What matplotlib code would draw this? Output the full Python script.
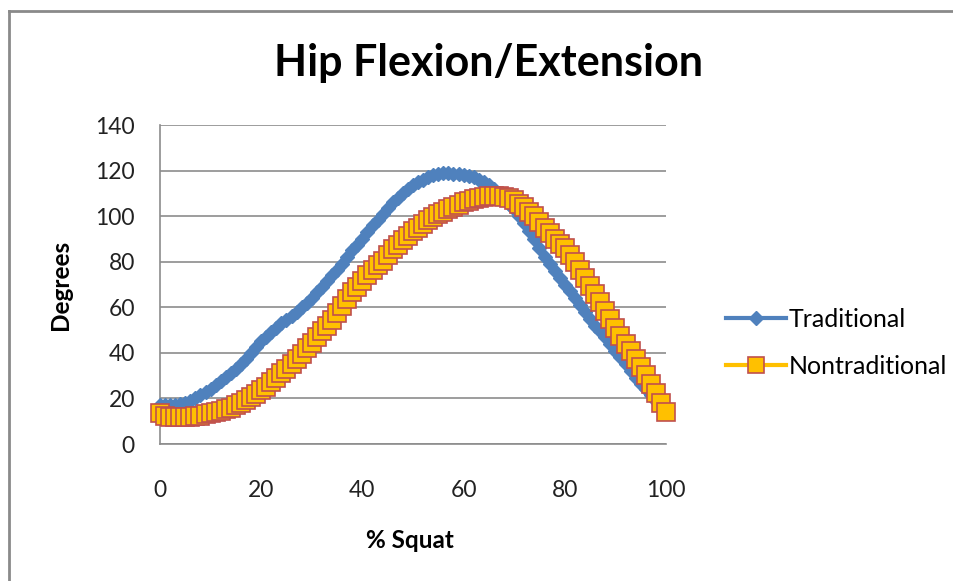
import matplotlib.pyplot as plt
from matplotlib.lines import Line2D

plt.rcParams['font.family'] = ['Lato', 'DejaVu Sans']

# % squat, 0..100
squat = list(range(101))

traditional = [
    17.0, 17.0, 17.0, 17.2, 17.5, 18.2, 19.0, 20.2, 21.5, 22.7,
    24.0, 25.7, 27.5, 29.2, 31.0, 33.0, 35.0, 37.5, 40.0, 42.5,
    45.0, 47.0, 49.0, 51.0, 53.0, 54.5, 56.0, 58.0, 60.0, 62.0,
    64.0, 66.5, 69.0, 71.5, 74.0, 76.5, 79.0, 82.0, 85.0, 87.5,
    90.0, 93.0, 96.0, 98.5, 101.0, 103.5, 106.0, 108.0, 110.0, 112.0,
    113.5, 115.0, 116.0, 117.0, 118.0, 118.7, 119.0, 119.0, 118.6, 118.3,
    118.0, 117.5, 117.0, 116.0, 115.0, 113.5, 112.0, 110.0, 108.0, 105.5,
    103.0, 100.0, 97.0, 93.5, 90.0, 86.0, 82.0, 79.0, 76.0, 73.0,
    70.0, 67.0, 64.0, 61.0, 58.0, 55.0, 52.0, 49.5, 47.0, 44.0,
    41.0, 38.0, 35.0, 32.0, 29.0, 26.5, 24.0, 21.5, 19.0, 16.5,
    14.0,
]

nontraditional = [
    13.5, 12.5, 12.0, 12.0, 12.0, 12.0, 12.0, 12.2, 12.5, 13.0,
    13.5, 14.0, 14.5, 15.2, 16.0, 17.0, 18.0, 19.2, 20.5, 22.0,
    23.5, 25.2, 27.0, 29.0, 31.0, 33.0, 35.0, 37.2, 39.5, 42.0,
    44.5, 47.0, 49.5, 52.0, 54.5, 57.5, 60.5, 63.5, 66.5, 69.0,
    71.5, 74.0, 76.5, 78.5, 80.5, 83.0, 85.5, 87.5, 89.5, 91.5,
    93.3, 95.0, 96.7, 98.2, 99.6, 100.9, 102.0, 103.0, 104.0, 105.0,
    106.0, 106.8, 107.5, 108.0, 108.5, 108.8, 109.0, 108.8, 108.5, 107.8,
    107.0, 105.5, 104.0, 102.0, 100.0, 97.5, 95.0, 92.5, 90.0, 88.0,
    86.0, 83.0, 80.0, 76.5, 73.0, 69.5, 66.0, 62.2, 58.5, 54.8,
    51.0, 47.5, 44.0, 40.7, 37.5, 34.0, 30.5, 26.5, 22.5, 18.2,
    14.0,
]

yticks = [0, 20, 40, 60, 80, 100, 120, 140]
xticks = [0, 20, 40, 60, 80, 100]

fig = plt.figure(figsize=(9.54, 5.81), dpi=100)
ax = fig.add_axes([0.1677, 0.2358, 0.5304, 0.549])

ax.plot(squat, traditional, color='#4F81BD', lw=3, marker='D', ms=7,
        mfc='#4F81BD', mec='#4F81BD', label='Traditional', zorder=3)
ax.plot(squat, nontraditional, color='#FFC000', lw=3, marker='s', ms=13,
        mfc='#FFC000', mec='#C0504D', mew=1.2, label='Nontraditional', zorder=4)

ax.set_xlim(0, 100)
ax.set_ylim(0, 140)
ax.set_xticks(xticks)
ax.set_yticks(yticks)
ax.tick_params(length=0, labelsize=16.5, colors='#222222')
ax.tick_params(axis='x', pad=26)
ax.tick_params(axis='y', pad=18)
ax.grid(axis='y', color='#8C8C8C', lw=1.2)
ax.set_axisbelow(True)
for s in ['top', 'right']:
    ax.spines[s].set_visible(False)
for s in ['left', 'bottom']:
    ax.spines[s].set_color('#8C8C8C')
    ax.spines[s].set_linewidth(1.2)
for ln in ax.lines:
    ln.set_clip_on(False)

fig.text(0.512, 0.892, 'Hip Flexion/Extension', ha='center', va='center',
         fontsize=31, fontweight='bold')
fig.text(0.063, 0.51, 'Degrees', ha='center', va='center', rotation=90,
         fontsize=17.5, fontweight='bold')
fig.text(0.43, 0.069, '% Squat', ha='center', va='center',
         fontsize=17.5, fontweight='bold')

leg = ax.legend(loc='center left', bbox_to_anchor=(0.761, 0.41),
                bbox_transform=fig.transFigure, frameon=False, fontsize=18,
                handlelength=2.4, handletextpad=0.1, labelspacing=0.95,
                borderaxespad=0, borderpad=0)
leg.legend_handles[1].set_markersize(11)

# chart border (top and left only)
fig.add_artist(Line2D([0.0094, 1.0], [0.981, 0.981], color='#8A8A8A', lw=2))
fig.add_artist(Line2D([0.0094, 0.0094], [0.0, 0.981], color='#8A8A8A', lw=2))

fig.savefig('out.png', dpi=100)
